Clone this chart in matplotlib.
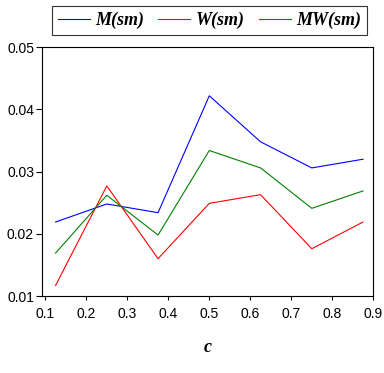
import matplotlib
matplotlib.use("Agg")
import matplotlib.pyplot as plt

# datos
c_vals = [0.125, 0.25, 0.375, 0.5, 0.625, 0.75, 0.875]
m_sm = [0.0219, 0.0248, 0.0234, 0.0422, 0.0348, 0.0306, 0.0320]
w_sm = [0.0117, 0.0277, 0.0160, 0.0249, 0.0263, 0.0176, 0.0219]
mw_sm = [0.0169, 0.0262, 0.0198, 0.0334, 0.0306, 0.0241, 0.0269]
x_ticks = [0.1, 0.2, 0.3, 0.4, 0.5, 0.6, 0.7, 0.8, 0.9]
y_ticks = [0.01, 0.02, 0.03, 0.04, 0.05]

plt.rcParams['font.family'] = ['Liberation Sans', 'DejaVu Sans']

fig = plt.figure(figsize=(3.84, 3.73), dpi=100)
ax = fig.add_axes([41.7 / 384, 1 - 296 / 373, (373.3 - 41.7) / 384, (296 - 47.3) / 373])

ax.plot(c_vals, m_sm, color='#0000ff', linewidth=0.8, label='M(sm)')
ax.plot(c_vals, w_sm, color='#ff0000', linewidth=0.8, label='W(sm)')
ax.plot(c_vals, mw_sm, color='#008000', linewidth=0.8, label='MW(sm)')

ax.set_xlim(0.0912, 0.9)
ax.set_ylim(0.01, 0.05)
ax.set_xticks(x_ticks)
ax.set_yticks(y_ticks)
ax.set_xticklabels([f"{v:.1f}" for v in x_ticks])
ax.set_yticklabels([f"{v:.2f}" for v in y_ticks])
ax.tick_params(direction='out', width=0.8, labelsize=10)
ax.tick_params(axis='y', length=4, pad=1.5)
ax.tick_params(axis='x', length=3, pad=5)
for s in ax.spines.values():
    s.set_linewidth(0.8)

ax.set_xlabel('c', fontfamily='Liberation Serif', fontweight='bold', fontstyle='italic',
              fontsize=13, labelpad=13)

leg = fig.legend(loc='center', bbox_to_anchor=(209.5 / 384, 1 - 20.5 / 373), ncol=3,
                 frameon=True, fancybox=False, edgecolor='black', handlelength=1.75,
                 columnspacing=0.8, handletextpad=0.3, borderpad=0.35, borderaxespad=0,
                 prop={'family': 'Liberation Serif', 'weight': 'bold', 'style': 'italic', 'size': 13})
leg.get_frame().set_linewidth(0.8)

fig.savefig('out.png', dpi=100)
